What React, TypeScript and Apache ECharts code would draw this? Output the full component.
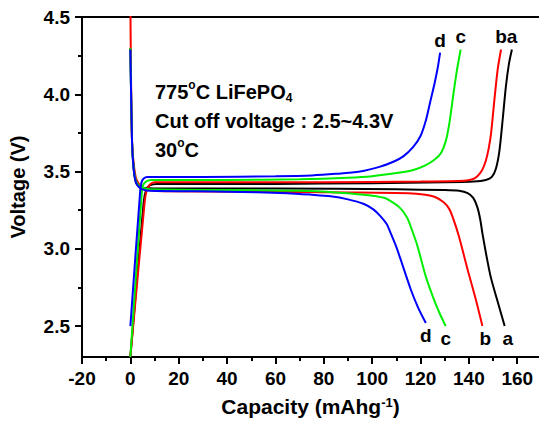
import React, { useEffect, useRef } from "react";
import * as echarts from "echarts";

const FONT = "'Liberation Sans', Arial, Helvetica, sans-serif";

const sampleNames = ["a", "b", "c", "d"];
const sampleColors = ["#000000", "#ff0000", "#00ee00", "#0000ff"];

// Charge curves (capacity mAh/g, voltage V)
const chargeA: number[][] = [
  [0, 2.3], [5.5, 3.3], [6.5, 3.38], [8, 3.41], [11, 3.42], [30, 3.42], [60, 3.42], [100, 3.425],
  [130, 3.43], [142, 3.435], [147, 3.445], [149.5, 3.465], [151.2, 3.52], [152.6, 3.63], [154, 3.84],
  [155.3, 4.05], [156.6, 4.2], [157.8, 4.29],
];
const chargeB: number[][] = [
  [0, 2.3], [5.9, 3.3], [6.8, 3.38], [8, 3.415], [10, 3.43], [40, 3.43], [80, 3.43], [120, 3.435],
  [138, 3.44], [141.5, 3.45], [143.5, 3.47], [145.5, 3.51], [147, 3.57], [148.2, 3.65], [149.2, 3.75],
  [150.4, 3.94], [151.9, 4.16], [153.3, 4.29],
];
const chargeC: number[][] = [
  [0, 2.3], [4.8, 3.38], [5.5, 3.42], [7, 3.44], [9, 3.445], [40, 3.445], [70, 3.45], [90, 3.46],
  [100, 3.47], [110, 3.49], [117, 3.51], [122, 3.54], [126, 3.58], [128.5, 3.62], [130.5, 3.7],
  [132, 3.82], [133.5, 3.99], [135, 4.15], [136.6, 4.29],
];
const chargeD: number[][] = [
  [0, 2.5], [4.1, 3.38], [4.6, 3.43], [5.5, 3.455], [7, 3.465], [30, 3.465], [60, 3.47], [75, 3.475],
  [85, 3.485], [95, 3.5], [103, 3.53], [109, 3.565], [113, 3.6], [117, 3.66], [120, 3.73], [122.2, 3.83],
  [124, 3.95], [125.8, 4.07], [127.1, 4.17], [128.1, 4.27],
];

// Discharge curves
const dischargeA: number[][] = [
  [0, 4.3], [0.7, 3.69], [1.4, 3.51], [2.3, 3.43], [3.5, 3.405], [5, 3.395], [10, 3.39], [60, 3.39],
  [110, 3.385], [130, 3.38], [136, 3.375], [139.5, 3.36], [141.8, 3.33], [143.5, 3.27], [144.7, 3.19],
  [145.6, 3.1], [147.2, 2.96], [149, 2.82], [151.5, 2.68], [154.8, 2.5],
];
const dischargeB: number[][] = [
  [0, 4.6], [0.35, 4.0], [0.7, 3.69], [1.4, 3.55], [2.3, 3.46], [3.5, 3.42], [5, 3.395], [8, 3.38],
  [14, 3.372], [50, 3.37], [90, 3.365], [115, 3.36], [122, 3.35], [126, 3.335], [129.7, 3.3],
  [131.8, 3.26], [133.2, 3.21], [135.9, 3.08], [139.4, 2.87], [142.9, 2.67], [145.6, 2.5],
];
const dischargeC: number[][] = [
  [0, 4.3], [0.7, 3.69], [1.4, 3.52], [2.3, 3.44], [3.5, 3.41], [5, 3.395], [8, 3.385], [40, 3.38],
  [70, 3.375], [85, 3.365], [96.6, 3.35], [104.9, 3.33], [108.5, 3.3], [111.8, 3.26], [114.5, 3.2],
  [116.5, 3.12], [118.7, 3.02], [122.2, 2.82], [125.6, 2.67], [128, 2.58], [130.4, 2.5],
];
const dischargeD: number[][] = [
  [0, 4.29], [0.7, 3.69], [1.4, 3.51], [2.3, 3.43], [3.5, 3.4], [5, 3.385], [8, 3.375], [40, 3.37],
  [65, 3.36], [75, 3.35], [82.8, 3.34], [90, 3.32], [96.6, 3.29], [100.5, 3.255], [103.5, 3.21],
  [106, 3.16], [107.7, 3.1], [109.8, 3.02], [111.8, 2.93], [115.9, 2.74], [119, 2.62], [122.2, 2.52],
];

const chargeCurves = [chargeA, chargeB, chargeC, chargeD];
const dischargeCurves = [dischargeA, dischargeB, dischargeC, dischargeD];

// Axis ticks
const xMajorTicks = [-20, 0, 20, 40, 60, 80, 100, 120, 140, 160];
const xMinorTicks = [-10, 10, 30, 50, 70, 90, 110, 130, 150];
const yMajorTicks = [2.5, 3.0, 3.5, 4.0, 4.5];
const yMinorTicks = [2.75, 3.25, 3.75, 4.25];
const X_MIN = -20;
const X_MAX = 169;
const Y_MIN = 2.3;
const Y_MAX = 4.5;

const annotationLines = [
  "775{sup|o}C LiFePO{sub|4}",
  "Cut off voltage : 2.5~4.3V",
  "30{sup|o}C",
];

export default function App() {
  const ref = useRef<HTMLDivElement>(null);

  useEffect(() => {
    if (!ref.current) return;
    const chart = echarts.init(ref.current, null, { renderer: "svg" });

    const lineSeries: any[] = [];
    for (let i = 0; i < sampleNames.length; i++) {
      const common = {
        type: "line",
        xAxisIndex: 0,
        yAxisIndex: 0,
        showSymbol: false,
        symbol: "none",
        smooth: 0.25,
        clip: true,
        lineStyle: { color: sampleColors[i], width: 2 },
        itemStyle: { color: sampleColors[i] },
        z: 2 + i,
      };
      lineSeries.push({ ...common, name: sampleNames[i] + " charge", data: chargeCurves[i] });
      lineSeries.push({ ...common, name: sampleNames[i] + " discharge", data: dischargeCurves[i] });
    }

    const labelText = {
      fontFamily: FONT,
      fontWeight: "bold",
      fontSize: 19,
      color: "#000000",
      opacity: 1,
      textBorderWidth: 0,
    };

    const topLabels = chargeCurves.map((c, i) => ({
      value: c[c.length - 1],
      name: sampleNames[i],
    }));
    const bottomLabels = dischargeCurves.map((c, i) => ({
      value: c[c.length - 1],
      name: sampleNames[i],
      label: { offset: [i < 2 ? 3 : 0, 0] },
    }));

    const tickAxisCommon = {
      axisLine: { show: false, onZero: false },
      axisLabel: { show: false },
      splitLine: { show: false },
    };

    const option: any = {
      animation: false,
      backgroundColor: "#ffffff",
      grid: { left: 82, right: 0, top: 17, bottom: 70, containLabel: false },
      xAxis: [
        {
          type: "value",
          min: X_MIN,
          max: X_MAX,
          position: "bottom",
          axisLine: { show: true, onZero: false, lineStyle: { color: "#000", width: 2 } },
          axisTick: { show: true, customValues: xMajorTicks, length: 7, lineStyle: { color: "#000", width: 2 } },
          axisLabel: {
            customValues: xMajorTicks,
            margin: 12,
            fontFamily: FONT,
            fontWeight: "bold",
            fontSize: 19,
            color: "#000",
          },
          splitLine: { show: false },
          name: "Capacity (mAhg{sup|-1})",
          nameLocation: "middle",
          nameGap: 39,
          nameTextStyle: {
            fontFamily: FONT,
            fontWeight: "bold",
            fontSize: 21,
            color: "#000",
            rich: {
              sup: { fontFamily: FONT, fontWeight: "bold", fontSize: 13, color: "#000", verticalAlign: "top", padding: [0, 0, 8, 0] },
            },
          },
        },
        {
          type: "value",
          min: X_MIN,
          max: X_MAX,
          position: "bottom",
          ...tickAxisCommon,
          axisTick: { show: true, customValues: xMinorTicks, length: 4, lineStyle: { color: "#000", width: 2 } },
        },
        {
          type: "value",
          min: X_MIN,
          max: X_MAX,
          position: "top",
          axisLine: { show: true, onZero: false, lineStyle: { color: "#000", width: 2 } },
          axisTick: { show: false },
          axisLabel: { show: false },
          splitLine: { show: false },
        },
      ],
      yAxis: [
        {
          type: "value",
          min: Y_MIN,
          max: Y_MAX,
          position: "left",
          axisLine: { show: true, onZero: false, lineStyle: { color: "#000", width: 2 } },
          axisTick: { show: true, customValues: yMajorTicks, length: 7, lineStyle: { color: "#000", width: 2 } },
          axisLabel: {
            customValues: yMajorTicks,
            margin: 12,
            fontFamily: FONT,
            fontWeight: "bold",
            fontSize: 19,
            color: "#000",
            formatter: (v: number) => v.toFixed(1),
          },
          splitLine: { show: false },
          name: "Voltage (V)",
          nameLocation: "middle",
          nameGap: 54,
          nameTextStyle: { fontFamily: FONT, fontWeight: "bold", fontSize: 20, color: "#000" },
        },
        {
          type: "value",
          min: Y_MIN,
          max: Y_MAX,
          position: "left",
          ...tickAxisCommon,
          axisTick: { show: true, customValues: yMinorTicks, length: 4, lineStyle: { color: "#000", width: 2 } },
        },
      ],
      graphic: [
        {
          type: "text",
          left: 155,
          top: 77,
          z: 100,
          style: {
            text: annotationLines.join("\n"),
            fontFamily: FONT,
            fontWeight: "bold",
            fontSize: 20,
            lineHeight: 29,
            fill: "#000",
            rich: {
              sup: { fontFamily: FONT, fontWeight: "bold", fontSize: 12, fill: "#000", verticalAlign: "top", lineHeight: 29, padding: [2, 0, 0, 0] },
              sub: { fontFamily: FONT, fontWeight: "bold", fontSize: 12, fill: "#000", verticalAlign: "bottom", lineHeight: 29, padding: [0, 0, 2, 0] },
            },
          },
        },
      ],
      series: [
        ...lineSeries,
        {
          type: "scatter",
          name: "top labels",
          xAxisIndex: 0,
          yAxisIndex: 0,
          symbolSize: 0,
          itemStyle: { color: "#000000", opacity: 1 },
          data: topLabels,
          z: 20,
          label: { show: true, position: "top", distance: 3, formatter: "{b}", ...labelText },
        },
        {
          type: "scatter",
          name: "bottom labels",
          xAxisIndex: 0,
          yAxisIndex: 0,
          symbolSize: 0,
          itemStyle: { color: "#000000", opacity: 1 },
          data: bottomLabels,
          z: 20,
          label: { show: true, position: "bottom", distance: 3, formatter: "{b}", ...labelText },
        },
      ],
    };

    chart.setOption(option);
    return () => chart.dispose();
  }, []);

  return (
    <div
      ref={ref}
      style={{ position: "absolute", left: 0, top: 0, width: 539, height: 427, background: "#fff" }}
    />
  );
}
